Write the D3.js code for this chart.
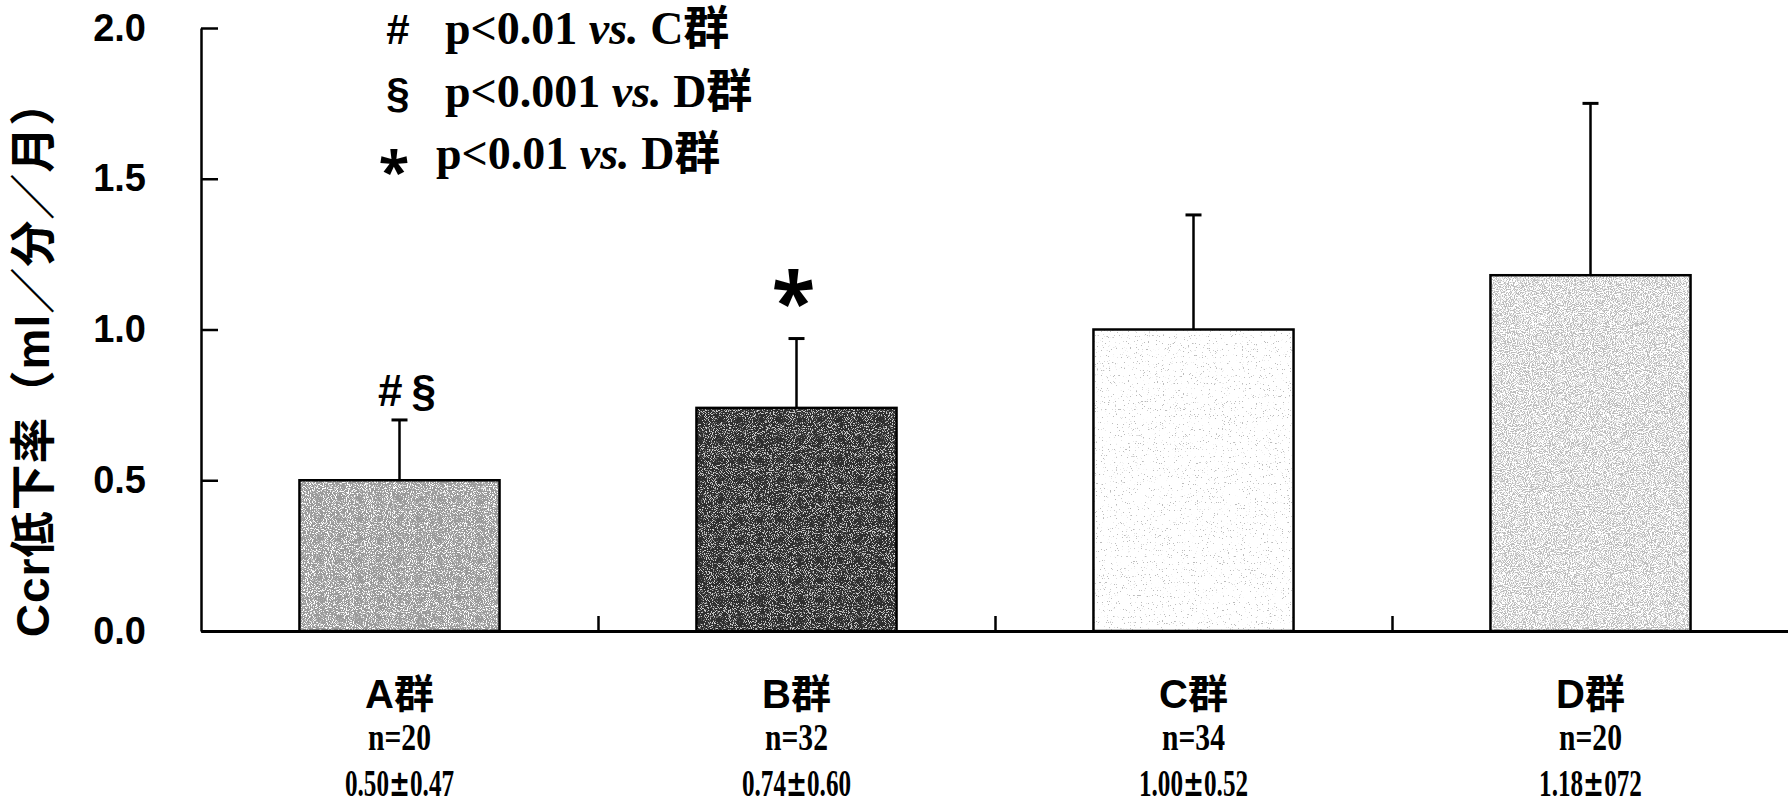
<!DOCTYPE html>
<html>
<head>
<meta charset="utf-8">
<script src="https://cdn.jsdelivr.net/npm/d3@7"></script>
<style>
  html, body { margin: 0; padding: 0; background: #fff; }
  svg { display: block; }
  .sans { font-family: "Liberation Sans", Arial, "Noto Sans CJK JP", sans-serif; font-weight: bold; }
  .serif { font-family: "Liberation Serif", "Times New Roman", "Noto Sans CJK JP", serif; font-weight: bold; }
  .pm { font-family: "DejaVu Sans", sans-serif; font-weight: bold; }
  .star { font-family: "Noto Sans", sans-serif; font-weight: bold; }
</style>
</head>
<body>
<svg id="chart" width="1788" height="806"></svg>
<script>
// Creatinine clearance decline rate by group
const groups   = ["A群", "B群", "C群", "D群"];
const nLabels  = ["n=20", "n=32", "n=34", "n=20"];
const means    = [0.50, 0.74, 1.00, 1.18];
const errTops  = [0.70, 0.97, 1.38, 1.75];
const statText = ["0.50±0.47", "0.74±0.60", "1.00±0.52", "1.18±072"];
const marks    = ["#§", "*", "", ""];
const yTicks   = [0.0, 0.5, 1.0, 1.5, 2.0];
const yTitle   = "Ccr低下率（ml／分／月）";
const legendSymbols = ["#", "§", "*"];
const legendP   = ["p<0.01", "p<0.001", "p<0.01"];
const legendVs  = ["C群", "D群", "D群"];

const svg = d3.select("#chart");
const margin = { left: 201, right: 3, top: 28, bottom: 175 };
const W = 1788, H = 806;

const y = d3.scaleLinear().domain([0, 2]).range([H - margin.bottom, margin.top]);
const x = d3.scaleBand().domain(groups)
  .range([margin.left, W + 1])
  .paddingInner(0.496).paddingOuter(0.248);
const xEdge = d3.scaleLinear().domain([0, groups.length]).range([margin.left, W + 1]);

// Grain textures for the four bars
const defs = svg.append("defs");
const textures = [
  { base: "#9a9a9a", dot: [1, 1, 1], freq: 0.95, k: 9,  t: 0.52, seed: 4 },
  { base: "#2e2e2e", dot: [0.62, 0.62, 0.62], freq: 0.95, k: 9, t: 0.53, seed: 7 },
  { base: "#ffffff", dot: [0.5, 0.5, 0.5], freq: 0.85, k: 14, t: 0.68, seed: 11 },
  { base: "#ffffff", dot: [0.5, 0.5, 0.5], freq: 0.95, k: 8,  t: 0.45, seed: 2 }
];
textures.forEach((tx, i) => {
  const f = defs.append("filter").attr("id", "grain" + i)
    .attr("x", 0).attr("y", 0).attr("width", 1).attr("height", 1);
  f.append("feTurbulence").attr("type", "fractalNoise")
    .attr("baseFrequency", tx.freq).attr("numOctaves", 2).attr("seed", tx.seed).attr("result", "n");
  f.append("feColorMatrix").attr("in", "n").attr("type", "matrix")
    .attr("values", `0 0 0 0 ${tx.dot[0]}  0 0 0 0 ${tx.dot[1]}  0 0 0 0 ${tx.dot[2]}  ${tx.k} 0 0 0 ${-tx.k * tx.t}`)
    .attr("result", "dots");
  f.append("feComposite").attr("in", "dots").attr("in2", "SourceGraphic").attr("operator", "in");
});

// Bars
const bars = svg.append("g");
groups.forEach((g, i) => {
  const bx = x(g), bw = x.bandwidth(), by = y(means[i]), bh = y(0) - y(means[i]);
  bars.append("rect").attr("x", bx).attr("y", by).attr("width", bw).attr("height", bh)
    .attr("fill", textures[i].base);
  bars.append("rect").attr("x", bx).attr("y", by).attr("width", bw).attr("height", bh)
    .attr("fill", "#000").attr("filter", `url(#grain${i})`);
  bars.append("rect").attr("x", bx).attr("y", by).attr("width", bw).attr("height", bh)
    .attr("fill", "none").attr("stroke", "#000").attr("stroke-width", 2.5);
});

// Error bars (upper only)
const err = svg.append("g").attr("stroke", "#000");
groups.forEach((g, i) => {
  const cx = x(g) + x.bandwidth() / 2;
  err.append("line").attr("x1", cx).attr("x2", cx)
    .attr("y1", y(means[i])).attr("y2", y(errTops[i])).attr("stroke-width", 2.5);
  err.append("line").attr("x1", cx - 8).attr("x2", cx + 8)
    .attr("y1", y(errTops[i])).attr("y2", y(errTops[i])).attr("stroke-width", 3);
});

// Y axis with inward ticks
const yAxis = d3.axisLeft(y).tickValues(yTicks).tickFormat(d3.format(".1f"))
  .tickSizeInner(-17).tickSizeOuter(0).tickPadding(55);
const gy = svg.append("g").attr("transform", `translate(${margin.left},0)`).call(yAxis);
gy.select(".domain").attr("stroke-width", 2.5);
gy.selectAll(".tick line").attr("stroke-width", 2.5);
gy.selectAll(".tick text").attr("class", "sans").attr("font-size", 38).attr("fill", "#000");

// X baseline with upward ticks at group boundaries
const xAxis = d3.axisBottom(xEdge).tickValues(d3.range(1, groups.length + 1))
  .tickSizeInner(-15).tickSizeOuter(0).tickFormat("");
const gx = svg.append("g").attr("transform", `translate(0,${y(0)})`).call(xAxis);
gx.select(".domain").attr("stroke-width", 3);
gx.selectAll(".tick line").attr("stroke-width", 2.5);

// Category labels
const lab = svg.append("g").attr("text-anchor", "middle").attr("fill", "#000");
groups.forEach((g, i) => {
  const cx = x(g) + x.bandwidth() / 2;
  lab.append("text").attr("class", "sans").attr("font-size", 40)
    .attr("x", cx).attr("y", 708).text(g);
  lab.append("text").attr("class", "serif").attr("font-size", 37)
    .attr("transform", `translate(${cx},750) scale(0.8,1)`).text(nLabels[i]);
  const parts = statText[i].split("±");
  const st = lab.append("text").attr("class", "serif").attr("font-size", 37)
    .attr("transform", `translate(${cx},796) scale(0.68,1)`);
  st.append("tspan").text(parts[0]);
  st.append("tspan").attr("class", "pm").text("±");
  st.append("tspan").text(parts[1]);
});

// Significance marks above error bars
groups.forEach((g, i) => {
  if (!marks[i]) return;
  const cx = x(g) + x.bandwidth() / 2;
  if (marks[i] === "*") {
    svg.append("text").attr("class", "star").attr("font-size", 80).attr("text-anchor", "middle")
      .attr("x", cx - 3).attr("y", y(errTops[i]) - 8).text(marks[i]);
  } else {
    svg.append("text").attr("class", "sans").attr("font-size", 44).attr("text-anchor", "middle")
      .attr("letter-spacing", 9)
      .attr("x", cx + 12).attr("y", y(errTops[i]) - 14).text(marks[i]);
  }
});

// Legend of significance symbols
const leg = svg.append("g");
const legY = [44, 107, 169];
legendSymbols.forEach((s, i) => {
  const sym = leg.append("text").attr("text-anchor", "middle").attr("x", 398).attr("y", legY[i]);
  if (s === "*") sym.attr("class", "star").attr("font-size", 56).attr("x", 394).attr("y", legY[i] + 22);
  else sym.attr("class", "sans").attr("font-size", 42);
  sym.text(s);
  const t = leg.append("text").attr("class", "serif").attr("font-size", 46)
    .attr("x", i === 2 ? 436 : 445).attr("y", legY[i]);
  t.append("tspan").text(legendP[i] + " ");
  t.append("tspan").attr("font-style", "italic").text("vs.");
  t.append("tspan").text(" " + legendVs[i]);
});

// Y axis title
svg.append("text").attr("class", "sans").attr("font-size", 46).attr("text-anchor", "middle")
  .attr("letter-spacing", 1)
  .attr("transform", `translate(49,358) rotate(-90)`).text(yTitle);
</script>
</body>
</html>
